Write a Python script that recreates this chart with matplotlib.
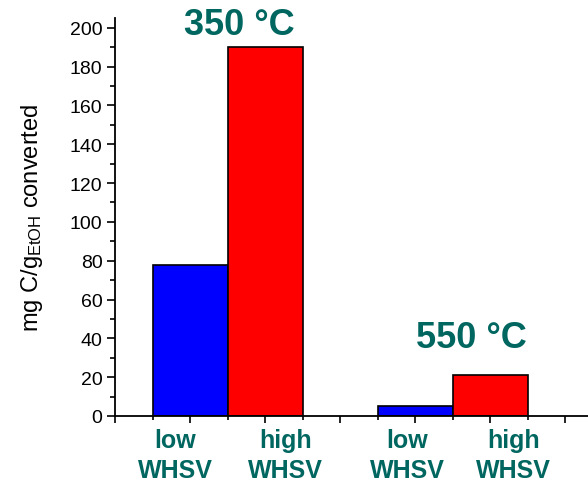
import matplotlib.pyplot as plt
from matplotlib.ticker import MultipleLocator

plt.rcParams['font.family'] = ['Liberation Sans', 'DejaVu Sans']
plt.rcParams['mathtext.fontset'] = 'custom'
plt.rcParams['mathtext.rm'] = 'Liberation Sans'
plt.rcParams['mathtext.it'] = 'Liberation Sans'

# data
bar_pos = [1, 2, 4, 5]
values = [78, 190, 5, 21]
colors = ['#0000ff', '#ff0000', '#0000ff', '#ff0000']
cat_labels = ['low\nWHSV', 'high\nWHSV', 'low\nWHSV', 'high\nWHSV']
label_x = [0.8, 2.27, 3.89, 5.31]
temps = ['350 °C', '550 °C']
temp_xy = [(1.65, 201.5), (4.75, 40.3)]

teal = '#006660'

fig = plt.figure(figsize=(5.88, 4.81), dpi=100)
ax = fig.add_axes([115 / 588, 64 / 481, 473 / 588, 398 / 481])

ax.bar(bar_pos, values, width=1.0, color=colors, edgecolor='black', linewidth=1.2, zorder=2)

ax.set_xlim(0, 6.3)
ax.set_ylim(0, 205)

ax.spines['top'].set_visible(False)
ax.spines['right'].set_visible(False)
ax.spines['left'].set_linewidth(1.3)
ax.spines['bottom'].set_linewidth(1.3)

ax.yaxis.set_major_locator(MultipleLocator(20))
ax.yaxis.set_minor_locator(MultipleLocator(10))
ax.xaxis.set_major_locator(MultipleLocator(1))
ax.xaxis.set_minor_locator(MultipleLocator(0.5))
ax.set_xticklabels([])
ax.tick_params(axis='y', which='major', length=6, width=1.2, labelsize=14, pad=3)
ax.tick_params(axis='y', which='minor', length=3.5, width=1.2)
ax.tick_params(axis='x', which='major', length=5, width=1.2)
ax.tick_params(axis='x', which='minor', length=3, width=1.2)

ax.set_ylabel('mg C/g$_{\\mathrm{EtOH}}$ converted', fontsize=17, labelpad=18)

for x, lab in zip(label_x, cat_labels):
    ax.text(x, -0.03, lab, transform=ax.get_xaxis_transform(), ha='center', va='top',
            fontsize=18, fontweight='bold', color=teal, linespacing=1.3)

for (x, y), t in zip(temp_xy, temps):
    ax.text(x, y, t, ha='center', va='center', fontsize=26, fontweight='bold', color=teal)

fig.savefig('out.png', dpi=100)
